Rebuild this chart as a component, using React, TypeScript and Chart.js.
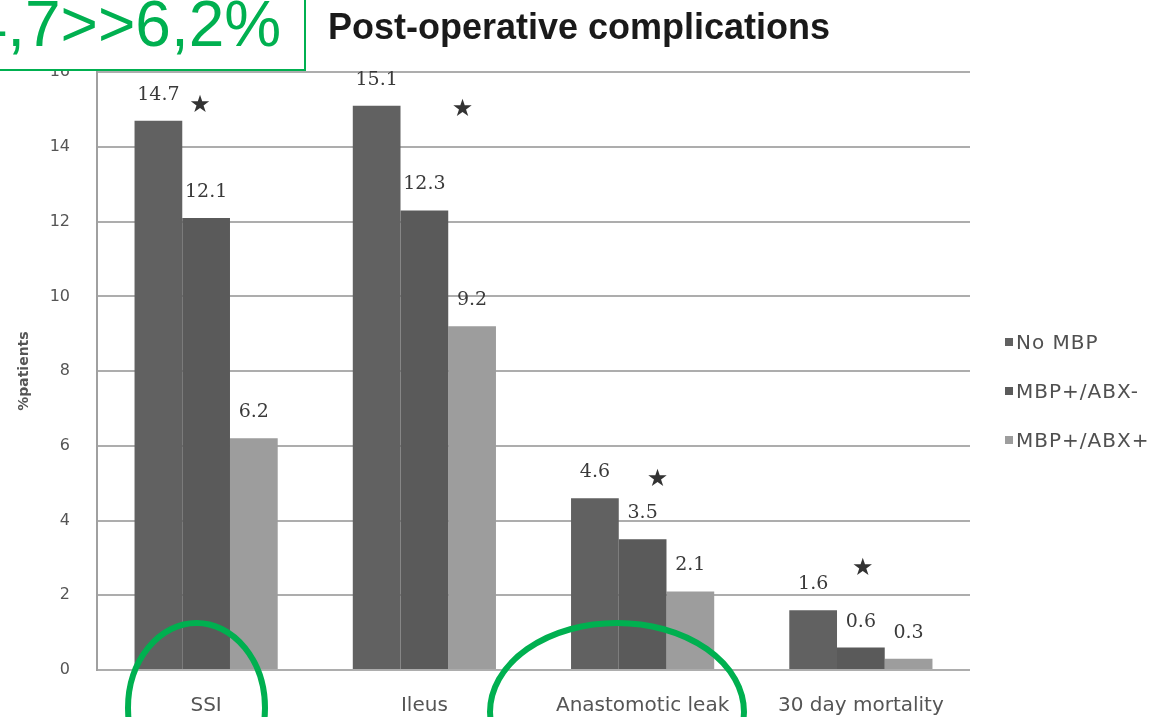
import React, { useEffect, useRef } from 'react';
import { Chart, registerables } from 'chart.js';

Chart.register(...registerables);

// ---- data ----
const categories = ['SSI', 'Ileus', 'Anastomotic leak', '30 day mortality'];
const seriesNames = ['No MBP', 'MBP+/ABX-', 'MBP+/ABX+'];
const noMBP = [14.7, 15.1, 4.6, 1.6];
const mbpAbxMinus = [12.1, 12.3, 3.5, 0.6];
const mbpAbxPlus = [6.2, 9.2, 2.1, 0.3];
const yTickValues = [0, 2, 4, 6, 8, 10, 12, 14, 16];
// significance stars (value on the y scale where each star sits)
const starValues = [15.1, 15.0, 5.1, 2.7];

const seriesColors = ['#616161', '#5a5a5a', '#9d9d9d'];
const starShift = [-0.13, 0.8, 0.31, 0.04]; // horizontal shift in bar widths from category centre

const W = 1158;
const H = 717;

const valueLabelPlugin = {
  id: 'valueLabels',
  afterDatasetsDraw(chart: any) {
    const ctx = chart.ctx;
    ctx.save();
    ctx.font = "19px 'DejaVu Serif', serif";
    ctx.fillStyle = '#3a3a3a';
    ctx.textAlign = 'center';
    ctx.textBaseline = 'middle';
    chart.data.datasets.forEach((ds: any, di: number) => {
      const meta = chart.getDatasetMeta(di);
      meta.data.forEach((bar: any, i: number) => {
        const v = ds.data[i] as number;
        ctx.fillText(v.toFixed(1), bar.x, bar.y - 26);
      });
    });
    ctx.restore();
  },
};

const starPlugin = {
  id: 'stars',
  afterDatasetsDraw(chart: any) {
    const ctx = chart.ctx;
    const xs = chart.scales.x;
    const ys = chart.scales.y;
    const bw = chart.getDatasetMeta(0).data[0].width;
    ctx.save();
    ctx.font = "24px 'DejaVu Sans', sans-serif";
    ctx.fillStyle = '#333333';
    ctx.textAlign = 'center';
    ctx.textBaseline = 'middle';
    starValues.forEach((v, i) => {
      const x = xs.getPixelForValue(i) + starShift[i] * bw;
      const y = ys.getPixelForValue(v);
      ctx.fillText('\u2605', x, y);
    });
    ctx.restore();
  },
};

export default function App() {
  const ref = useRef<HTMLCanvasElement | null>(null);

  useEffect(() => {
    document.body.style.margin = '0';
    if (!ref.current) return;
    const chart = new Chart(ref.current, {
      type: 'bar',
      data: {
        labels: categories,
        datasets: [noMBP, mbpAbxMinus, mbpAbxPlus].map((d, i) => ({
          label: seriesNames[i],
          data: d,
          backgroundColor: seriesColors[i],
          borderWidth: 0,
          categoryPercentage: 0.656,
          barPercentage: 1.0,
        })),
      },
      options: {
        responsive: false,
        animation: false,
        layout: { padding: 0 },
        plugins: {
          tooltip: { enabled: false },
          legend: { display: false },
          title: {
            display: true,
            text: 'Post-operative complications',
            color: '#1a1a1a',
            font: { family: "'Liberation Sans', Arial, sans-serif", size: 36, weight: 'bold' },
            padding: { top: 7, bottom: 22 },
          },
        },
        scales: {
          x: {
            grid: { display: false },
            border: { display: false },
            ticks: {
              color: '#555555',
              padding: 16,
              font: { family: "'DejaVu Sans', sans-serif", size: 20 },
            },
            afterFit: (s: any) => {
              s.height = 47;
            },
          },
          y: {
            min: 0,
            max: 16,
            afterBuildTicks: (s: any) => {
              s.ticks = yTickValues.map((v) => ({ value: v }));
            },
            grid: { color: '#adadad', lineWidth: 2, drawTicks: false },
            border: { display: true, color: '#a0a0a0', width: 2 },
            ticks: {
              color: '#555555',
              padding: 27,
              font: { family: "'DejaVu Sans', sans-serif", size: 16 },
            },
            title: {
              display: true,
              text: '%patients',
              color: '#555555',
              font: { family: "'DejaVu Sans', sans-serif", size: 14, weight: 'bold' },
              padding: { top: 16, bottom: 0 },
            },
            afterFit: (s: any) => {
              s.width = 97;
            },
          },
          legendSpace: {
            type: 'linear',
            position: 'right',
            display: true,
            grid: { display: false },
            border: { display: false },
            ticks: { display: false },
            afterFit: (s: any) => {
              s.width = 188;
            },
          },
        },
      } as any,
      plugins: [valueLabelPlugin, starPlugin],
    });
    return () => chart.destroy();
  }, []);

  const legendTops = [342, 391, 440];

  return (
    <div style={{ position: 'relative', width: W, height: H, overflow: 'hidden', background: '#fff' }}>
      <canvas ref={ref} width={W} height={H} style={{ display: 'block' }} />
      {seriesNames.map((name, i) => (
        <div
          key={name}
          style={{
            position: 'absolute',
            left: 1005,
            top: legendTops[i] - 11,
            height: 22,
            display: 'flex',
            alignItems: 'center',
            whiteSpace: 'nowrap',
            fontFamily: "'DejaVu Sans', sans-serif",
            fontSize: 20,
            letterSpacing: 1,
            color: '#505050',
          }}
        >
          <span
            style={{
              display: 'inline-block',
              width: 8,
              height: 8,
              background: seriesColors[i],
              marginRight: 3,
            }}
          />
          <span style={{ lineHeight: '22px' }}>{name}</span>
        </div>
      ))}
      <svg
        width={W}
        height={H}
        style={{ position: 'absolute', left: 0, top: 0, pointerEvents: 'none' }}
      >
        <rect x={-100} y={-20} width={405} height={90} fill="#ffffff" stroke="#00b050" strokeWidth={2} />
        <text
          x={-64}
          y={46}
          fontFamily="'Liberation Sans', Arial, sans-serif"
          fontSize={64}
          fill="#00b050"
        >
          14,7&gt;&gt;6,2%
        </text>
        <ellipse cx={196.5} cy={708} rx={68.5} ry={85} fill="none" stroke="#00b050" strokeWidth={6} />
        <ellipse cx={617} cy={712} rx={127} ry={89} fill="none" stroke="#00b050" strokeWidth={6} />
      </svg>
    </div>
  );
}
